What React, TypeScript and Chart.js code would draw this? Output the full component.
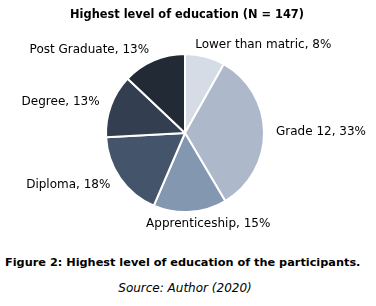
import React, { useEffect, useRef } from "react";
import { Chart, registerables } from "chart.js";

Chart.register(...registerables);

const categories = ["Lower than matric", "Grade 12", "Apprenticeship", "Diploma", "Degree", "Post Graduate"];
const counts = [12, 49, 22, 26, 19, 19];
const percentLabels = ["8%", "33%", "15%", "18%", "13%", "13%"];
const colors = ["#d6dce5", "#adb9ca", "#8497b0", "#44546a", "#333f50", "#222a35"];
const titleText = "Highest level of education (N = 147)";
const captionText = "Figure 2: Highest level of education of the participants.";
const sourceText = "Source: Author (2020)";

const FONT = '"DejaVu Sans", sans-serif';

const labelPlugin = {
  id: "outsideLabels",
  afterDatasetsDraw(chart: any) {
    const ctx = chart.ctx;
    const meta = chart.getDatasetMeta(0);
    ctx.save();
    ctx.fillStyle = "#000";
    ctx.font = `bold 11.4px ${FONT}`;
    ctx.textAlign = "center";
    ctx.textBaseline = "middle";
    ctx.fillText(titleText, 187, 15);
    ctx.font = `12px ${FONT}`;
    ctx.textAlign = "left";
    meta.data.forEach((arc: any, i: number) => {
      const p = arc.getProps(["x", "y", "startAngle", "endAngle", "outerRadius"], true);
      const mid = (p.startAngle + p.endAngle) / 2;
      const r = p.outerRadius + 12;
      const ax = p.x + Math.cos(mid) * r;
      const ay = p.y + Math.sin(mid) * r;
      const text = `${categories[i]}, ${percentLabels[i]}`;
      const w = ctx.measureText(text).width;
      const s = Math.cos(mid);
      const f = Math.min(1, Math.max(0, 0.45 - 1.4 * s));
      ctx.fillText(text, ax - w * f, ay);
    });
    ctx.restore();
  },
};

export default function App() {
  const ref = useRef<HTMLCanvasElement>(null);
  useEffect(() => {
    document.body.style.margin = "0";
    const chart = new Chart(ref.current!, {
      type: "pie",
      data: {
        labels: categories,
        datasets: [
          {
            data: counts,
            backgroundColor: colors,
            borderColor: "#ffffff",
            borderWidth: 2,
          },
        ],
      },
      options: {
        animation: false,
        responsive: false,
        layout: { padding: { left: 105, right: 111, top: 53, bottom: 37 } },
        plugins: {
          legend: { display: false },
          tooltip: { enabled: false },
          title: { display: false },
        },
      },
      plugins: [labelPlugin],
    });
    return () => chart.destroy();
  }, []);
  return (
    <div style={{ width: 376, height: 306, background: "#fff", position: "relative" }}>
      <canvas ref={ref} width={376} height={250} style={{ display: "block" }} />
      <div
        style={{
          position: "absolute",
          left: 5,
          top: 256,
          fontFamily: FONT,
          fontWeight: "bold",
          fontSize: 11.3,
          color: "#000",
          whiteSpace: "nowrap",
        }}
      >
        {captionText}
      </div>
      <div
        style={{
          position: "absolute",
          left: 0,
          width: 370,
          top: 281,
          textAlign: "center",
          fontFamily: FONT,
          fontStyle: "italic",
          fontSize: 12,
          color: "#000",
        }}
      >
        {sourceText}
      </div>
    </div>
  );
}
